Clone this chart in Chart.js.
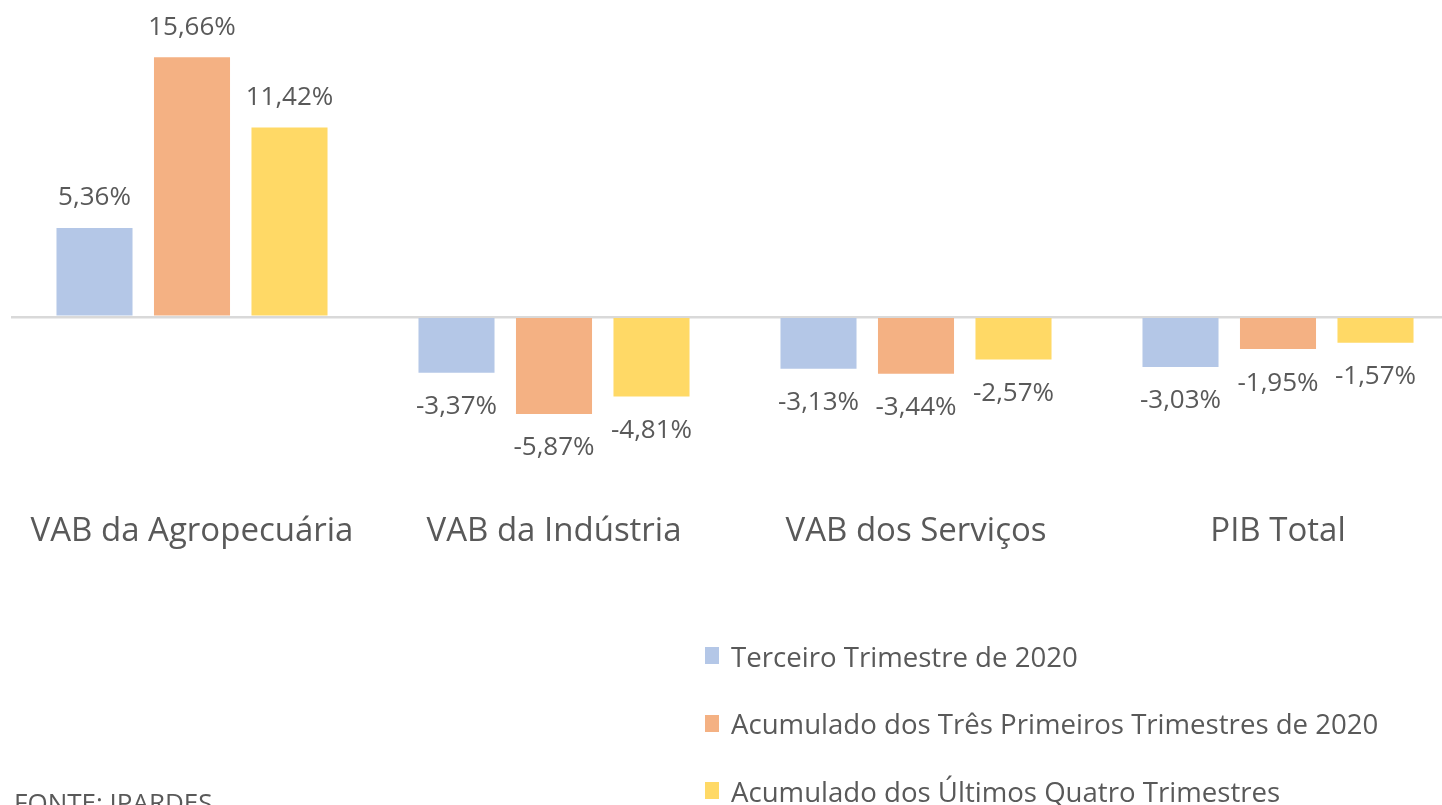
<!DOCTYPE html>
<html>
<head>
<meta charset="utf-8">
<script src="https://cdn.jsdelivr.net/npm/chart.js@4"></script>
<style>
  html, body { margin: 0; padding: 0; background: #fff; overflow: hidden; width: 1442px; height: 805px; }
  #wrap { position: absolute; left: 0; top: 0; width: 1470px; height: 805px; }
  #legend { position: absolute; left: 705px; top: 622px; font-family: "Open Sans", sans-serif; font-size: 27.6px; color: #595959; }
  .li { height: 67.5px; display: flex; align-items: center; white-space: nowrap; }
  .sw { width: 14px; height: 17px; margin-right: 12px; }
  #fonte { position: absolute; left: 14px; top: 784px; font-family: "Open Sans", sans-serif; font-size: 26px; color: #595959; }
</style>
</head>
<body>
<div id="wrap"><canvas id="c" width="1470" height="805"></canvas></div>
<div id="legend"></div>
<div id="fonte">FONTE: IPARDES</div>
<script>
const categories = ["VAB da Agropecuária", "VAB da Indústria", "VAB dos Serviços", "PIB Total"];
const seriesNames = ["Terceiro Trimestre de 2020", "Acumulado dos Três Primeiros Trimestres de 2020", "Acumulado dos Últimos Quatro Trimestres"];
const terceiroTrimestre = [5.36, -3.37, -3.13, -3.03];
const acumuladoTresPrimeiros = [15.66, -5.87, -3.44, -1.95];
const acumuladoQuatroUltimos = [11.42, -4.81, -2.57, -1.57];
const colors = ["#B4C7E7", "#F4B183", "#FFD966"];

const seriesValues = [terceiroTrimestre, acumuladoTresPrimeiros, acumuladoQuatroUltimos];

const fmt = v => v.toFixed(2).replace('.', ',') + '%';

const labelPlugin = {
  id: 'valueLabels',
  afterDatasetsDraw(chart) {
    const ctx = chart.ctx;
    ctx.save();
    ctx.font = '26px "Open Sans", sans-serif';
    ctx.fillStyle = '#595959';
    ctx.textAlign = 'center';
    ctx.textBaseline = 'middle';
    chart.data.datasets.forEach((ds, i) => {
      const meta = chart.getDatasetMeta(i);
      meta.data.forEach((bar, j) => {
        const v = ds.data[j];
        const y = v >= 0 ? bar.y - 30 : bar.y + 34;
        ctx.fillText(fmt(v), bar.x, y);
      });
    });
    ctx.restore();
  }
};

new Chart(document.getElementById('c'), {
  type: 'bar',
  data: {
    labels: categories,
    datasets: seriesNames.map((n, i) => ({
      label: n,
      data: seriesValues[i],
      backgroundColor: colors[i],
      borderWidth: 0,
      categoryPercentage: 0.808,
      barPercentage: 0.78
    }))
  },
  options: {
    responsive: false,
    animation: false,
    devicePixelRatio: 1,
    layout: { padding: { left: 11, right: 11, top: 35, bottom: 192 } },
    plugins: { legend: { display: false }, tooltip: { enabled: false } },
    scales: {
      x: {
        afterFit(s) { s.paddingLeft = 0; s.paddingRight = 0; },
        grid: { display: false, drawTicks: false },
        border: { display: false },
        ticks: { color: '#595959', font: { family: '"Open Sans", sans-serif', size: 33 }, padding: 62, maxRotation: 0 }
      },
      y: {
        min: -8, max: 17,
        afterFit(s) { s.width = 0; },
        ticks: { display: false, stepSize: 1 },
        border: { display: false },
        grid: {
          drawTicks: false,
          color: c => (c.tick && c.tick.value === 0) ? '#D9D9D9' : 'rgba(0,0,0,0)',
          lineWidth: c => (c.tick && c.tick.value === 0) ? 2.5 : 0
        }
      }
    }
  },
  plugins: [labelPlugin]
});

const lg = document.getElementById('legend');
seriesNames.forEach((n, i) => {
  const d = document.createElement('div');
  d.className = 'li';
  d.innerHTML = '<div class="sw" style="background:' + colors[i] + '"></div><span>' + n + '</span>';
  lg.appendChild(d);
});
</script>
</body>
</html>
